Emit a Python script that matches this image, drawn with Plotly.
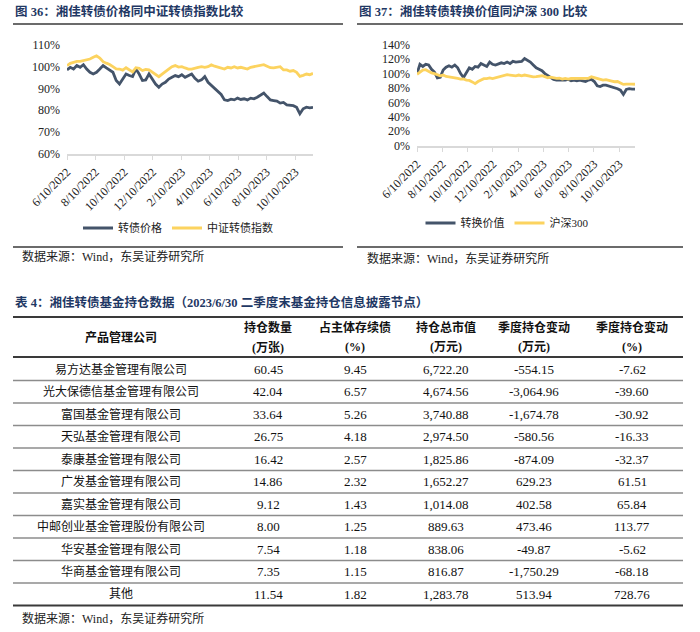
import plotly.graph_objects as go
import pandas as pd

W, H = 700, 632

# ---------------- data ----------------
DATES = pd.date_range("2022-06-10", "2023-11-17", freq="7D")  # weekly readings

BOND_PRICE = [98.5, 99.7, 98.9, 100.5, 99.7, 100.9, 98.9, 97.4, 96.6, 97.4,
              98.9, 100.5, 99.4, 98.5, 97.4, 93.6, 92.0, 94.3, 96.6, 95.9,
              95.4, 98.9, 96.6, 93.6, 93.9, 96.6, 94.3, 92.0, 90.5, 92.0,
              92.8, 94.3, 95.1, 95.9, 95.4, 96.3, 95.1, 95.9, 96.6, 94.6,
              93.3, 93.9, 95.4, 92.8, 91.3, 89.8, 88.7, 87.2, 84.7, 84.4,
              85.0, 84.7, 85.5, 84.9, 85.2, 84.7, 85.5, 85.2, 85.9, 87.0,
              87.8, 86.2, 84.7, 84.4, 84.1, 83.2, 83.5, 82.4, 82.1, 82.0,
              81.3, 78.3, 80.6, 81.3, 81.0, 81.3]
CB_INDEX = [100.5, 101.5, 102.0, 102.4, 102.4, 102.8, 103.0, 103.5, 104.3, 105.0,
            104.0, 102.3, 101.6, 101.0, 100.0, 99.0, 98.9, 98.4, 99.5, 98.6,
            97.6, 99.5, 99.2, 98.2, 98.7, 98.5, 97.6, 96.5, 95.4, 96.6,
            97.9, 98.9, 100.0, 100.5, 99.8, 100.0, 99.4, 98.9, 98.9, 99.4,
            99.7, 100.0, 99.7, 100.0, 100.8, 100.2, 99.7, 99.4, 98.9, 99.7,
            99.4, 100.0, 99.4, 99.7, 99.4, 98.9, 99.7, 100.0, 100.3, 100.8,
            100.9, 100.2, 99.5, 99.4, 99.7, 100.0, 98.5, 98.5, 97.9, 98.2,
            97.4, 95.5, 96.0, 96.6, 96.3, 96.9]
CONV_VALUE = [100, 113, 110, 113, 112, 106, 102, 94, 95, 105,
              109, 111, 109, 112, 108, 100, 94.5, 101, 108, 106,
              110, 109, 114, 112, 110, 116, 113, 112, 114, 115,
              114, 116, 114, 117, 116, 116, 117, 121, 119, 116,
              112, 108, 106, 104, 100, 97, 94, 92, 91, 91.5,
              91, 91, 92, 90, 91, 90, 91, 90, 89, 91,
              92, 89, 83, 82, 84, 84, 83, 81, 80, 79,
              77, 71, 78, 79, 78.5, 78.5]
HS300 = [99, 102, 105, 105.5, 103, 101, 100, 98, 97, 98,
         96, 95.5, 95, 94, 93.4, 92.4, 92.5, 91, 90.5, 88.5,
         86, 89, 91.5, 93, 93, 94, 93, 94, 95.7, 97,
         97.5, 98.5, 98, 97, 97, 98, 97, 98, 97, 96,
         95.5, 95.7, 96.5, 97, 95.7, 94.3, 95, 93.8, 93.5, 93.8,
         92.5, 93.4, 92.5, 93.2, 93.4, 92.8, 93.2, 93.4, 94, 93.4,
         95.5, 94.3, 93, 91.5, 91, 91.5, 91, 89.6, 88.7, 89,
         87, 85, 85.5, 86, 85.5, 85.2]

TICK_DATES = ["2022-06-10", "2022-08-10", "2022-10-10", "2022-12-10", "2023-02-10",
              "2023-04-10", "2023-06-10", "2023-08-10", "2023-10-10"]
TICK_LABELS = ["6/10/2022", "8/10/2022", "10/10/2022", "12/10/2022", "2/10/2023",
               "4/10/2023", "6/10/2023", "8/10/2023", "10/10/2023"]
Y1_TICKS = [60, 70, 80, 90, 100, 110]
Y1_LABELS = ["60%", "70%", "80%", "90%", "100%", "110%"]
Y2_TICKS = [0, 20, 40, 60, 80, 100, 120, 140]
Y2_LABELS = ["0%", "20%", "40%", "60%", "80%", "100%", "120%", "140%"]

COMPANIES = ["易方达基金管理有限公司", "光大保德信基金管理有限公司", "富国基金管理有限公司",
             "天弘基金管理有限公司", "泰康基金管理有限公司", "广发基金管理有限公司",
             "嘉实基金管理有限公司", "中邮创业基金管理股份有限公司", "华安基金管理有限公司",
             "华商基金管理有限公司", "其他"]
HOLD_QTY = [60.45, 42.04, 33.64, 26.75, 16.42, 14.86, 9.12, 8.00, 7.54, 7.35, 11.54]
PCT_OUTSTANDING = [9.45, 6.57, 5.26, 4.18, 2.57, 2.32, 1.43, 1.25, 1.18, 1.15, 1.82]
MKT_VALUE = [6722.20, 4674.56, 3740.88, 2974.50, 1825.86, 1652.27, 1014.08, 889.63,
             838.06, 816.87, 1283.78]
QTR_CHG = [-554.15, -3064.96, -1674.78, -580.56, -874.09, 629.23, 402.58, 473.46,
           -49.87, -1750.29, 513.94]
QTR_CHG_PCT = [-7.62, -39.60, -30.92, -16.33, -32.37, 61.51, 65.84, 113.77, -5.62,
               -68.18, 728.76]
HEADERS_1 = ["产品管理公司", "持仓数量", "占主体存续债", "持仓总市值", "季度持仓变动", "季度持仓变动"]
HEADERS_2 = ["", "(万张)", "(%)", "(万元)", "(万元)", "(%)"]

TITLE_1 = "图 36：湘佳转债价格同中证转债指数比较"
TITLE_2 = "图 37：湘佳转债转换价值同沪深 300 比较"
TITLE_T = "表 4：湘佳转债基金持仓数据（2023/6/30 二季度末基金持仓信息披露节点）"
SOURCE = "数据来源：Wind，东吴证券研究所"

# ---------------- style ----------------
NAVY = "#44546A"
YELLOW = "#FCD35F"
TITLE_C = "#1F3864"
FONT = "Liberation Serif, Noto Sans CJK SC, serif"


def px(x):
    return x / W


def py(y):
    return 1 - y / H


fig = go.Figure()
fig.add_trace(go.Scatter(x=DATES, y=BOND_PRICE, name="转债价格", mode="lines",
                         line=dict(color=NAVY, width=2.8), xaxis="x", yaxis="y",
                         legend="legend"))
fig.add_trace(go.Scatter(x=DATES, y=CB_INDEX, name="中证转债指数", mode="lines",
                         line=dict(color=YELLOW, width=2.8), xaxis="x", yaxis="y",
                         legend="legend"))
fig.add_trace(go.Scatter(x=DATES, y=CONV_VALUE, name="转换价值", mode="lines",
                         line=dict(color=NAVY, width=2.8), xaxis="x2", yaxis="y2",
                         legend="legend2"))
fig.add_trace(go.Scatter(x=DATES, y=HS300, name="沪深300", mode="lines",
                         line=dict(color=YELLOW, width=2.8), xaxis="x2", yaxis="y2",
                         legend="legend2"))

xcommon = dict(type="date", range=[DATES[0], DATES[-1]], tickvals=TICK_DATES,
               ticktext=TICK_LABELS, tickangle=-45, showgrid=False, zeroline=False,
               showline=True, linecolor="#D9D9D9", linewidth=1.5, ticks="outside",
               ticklen=5, tickcolor="#D9D9D9", tickwidth=1, automargin=False,
               tickfont=dict(family=FONT, size=12, color="#222"))
ycommon = dict(showgrid=False, zeroline=False, showline=False, automargin=False,
               ticklabelstandoff=6, tickfont=dict(family=FONT, size=12, color="#222"))

fig.update_layout(
    width=W, height=H, margin=dict(l=0, r=0, t=0, b=0, autoexpand=False),
    paper_bgcolor="white", plot_bgcolor="white",
    xaxis=dict(domain=[px(67), px(313)], anchor="y", **xcommon),
    yaxis=dict(domain=[py(153.5), py(44.5)], anchor="x", range=[60, 110.2],
               tickvals=Y1_TICKS, ticktext=Y1_LABELS, **ycommon),
    xaxis2=dict(domain=[px(417), px(635)], anchor="y2", **xcommon),
    yaxis2=dict(domain=[py(145.5), py(44.5)], anchor="x2", range=[0, 140.5],
                tickvals=Y2_TICKS, ticktext=Y2_LABELS, **ycommon),
    legend=dict(orientation="h", x=px(178), y=py(228), xanchor="center", yanchor="middle",
                font=dict(family=FONT, size=11, color="#222"), itemwidth=30,
                bgcolor="rgba(0,0,0,0)"),
    legend2=dict(orientation="h", x=px(507), y=py(223), xanchor="center", yanchor="middle",
                 font=dict(family=FONT, size=11, color="#222"), itemwidth=30,
                 bgcolor="rgba(0,0,0,0)"),
)

ann = []
shapes = []


def text(x, y, s, size=12, bold=False, color="#111", anchor="center"):
    ann.append(dict(x=px(x), y=py(y), xref="paper", yref="paper", showarrow=False,
                    text=f"<b>{s}</b>" if bold else s, xanchor=anchor, yanchor="middle",
                    font=dict(family=FONT, size=size, color=color)))


def hline(x0, x1, y, color, width):
    shapes.append(dict(type="line", xref="paper", yref="paper", x0=px(x0), x1=px(x1),
                       y0=py(y), y1=py(y), line=dict(color=color, width=width)))


# chart titles and sources
text(13, 12, TITLE_1, size=12.5, bold=True, color=TITLE_C, anchor="left")
text(357, 12, TITLE_2, size=12.5, bold=True, color=TITLE_C, anchor="left")
hline(13, 343, 24, "#3A3A3A", 1.5)
hline(357, 683, 24, "#3A3A3A", 1.5)
hline(13, 343, 247, "#3A3A3A", 1.5)
hline(357, 683, 247, "#3A3A3A", 1.5)
text(20, 257, SOURCE, size=12, color="#222", anchor="left")
text(365, 258, SOURCE, size=12, color="#222", anchor="left")

# table
text(13, 302, TITLE_T, size=12.5, bold=True, color=TITLE_C, anchor="left")
COL_X = [121, 268, 355, 446, 534, 632]
hline(13, 683, 317, "#3A3A3A", 2)
hline(13, 683, 357, "#3A3A3A", 2)
text(COL_X[0], 337, HEADERS_1[0], size=12, bold=True)
for cx, h1, h2 in zip(COL_X[1:], HEADERS_1[1:], HEADERS_2[1:]):
    text(cx, 327, h1, size=12, bold=True)
    text(cx, 347, h2, size=12, bold=True)

ROW0, ROWH = 358, 22.5
columns = [COMPANIES,
           [f"{v:,.2f}" for v in HOLD_QTY],
           [f"{v:,.2f}" for v in PCT_OUTSTANDING],
           [f"{v:,.2f}" for v in MKT_VALUE],
           [f"{v:,.2f}" for v in QTR_CHG],
           [f"{v:,.2f}" for v in QTR_CHG_PCT]]
for r in range(len(COMPANIES)):
    yc = ROW0 + ROWH * (r + 0.5)
    for ci, col in enumerate(columns):
        text(COL_X[ci], yc, col[r], size=12 if ci == 0 else 13, color="#111")
    if r < len(COMPANIES) - 1:
        hline(13, 683, ROW0 + ROWH * (r + 1), "#8C8C8C", 1.5)
hline(13, 683, ROW0 + ROWH * len(COMPANIES), "#3A3A3A", 2)
text(20, 618, SOURCE, size=12, color="#222", anchor="left")

fig.update_layout(annotations=ann, shapes=shapes)
fig.write_html("out.html", config={"displayModeBar": False},
               post_script="document.body.style.margin='0';document.body.style.overflow='hidden';")
